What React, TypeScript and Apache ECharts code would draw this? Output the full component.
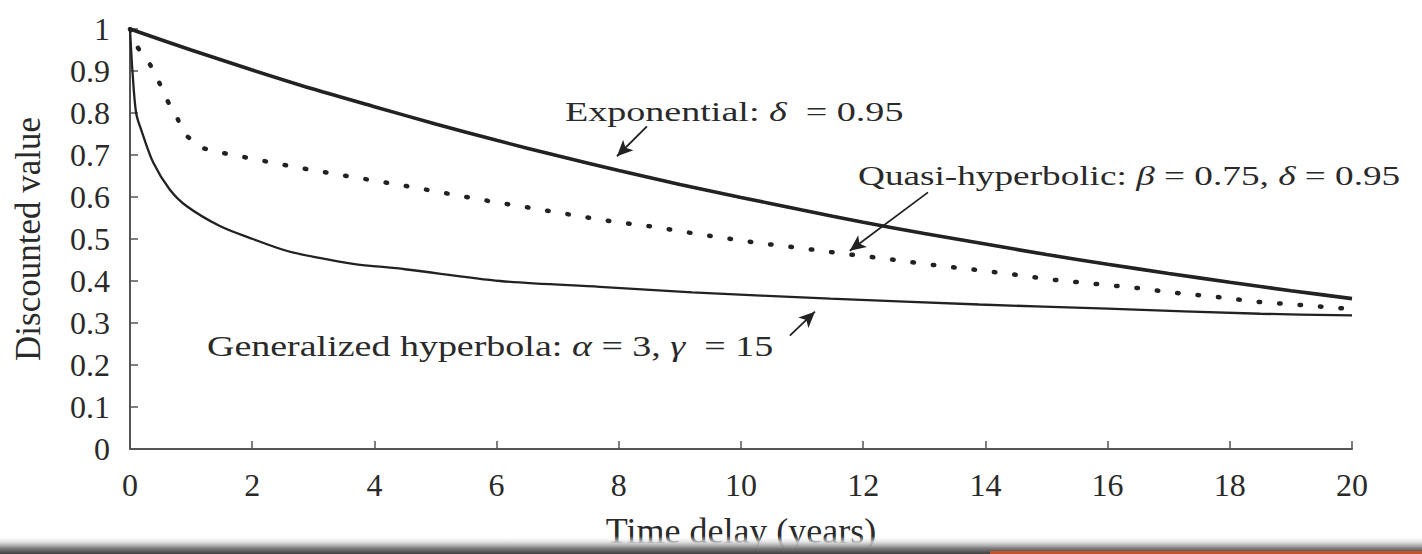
import React, { useEffect, useRef } from "react";
import * as echarts from "echarts";

// ---- data ----
const xTickValues = [0, 2, 4, 6, 8, 10, 12, 14, 16, 18, 20];

const expT = [0, 1, 2, 3, 4, 5, 6, 7, 8, 9, 10, 11, 12, 13, 14, 15, 16, 17, 18, 19, 20];
const expV = [1, 0.95, 0.9025, 0.857, 0.815, 0.774, 0.735, 0.698, 0.663, 0.63, 0.599, 0.569, 0.54, 0.513, 0.488, 0.463, 0.44, 0.418, 0.397, 0.377, 0.358];

const quasiT = [0, 0.13, 0.33, 0.48, 0.62, 0.77, 0.9, 1.15, 1.47, 1.8, 2.18, 2.83, 3.55, 4.53, 5.24, 5.89, 6.6, 7.25, 7.97, 8.63, 9.28, 10.31, 11.0, 11.67, 12.39, 13.04, 13.7, 14.4, 15.1, 15.8, 16.45, 17.1, 17.8, 18.4, 19.15, 20];
const quasiV = [1, 0.955, 0.915, 0.872, 0.827, 0.789, 0.749, 0.718, 0.706, 0.697, 0.686, 0.668, 0.65, 0.626, 0.607, 0.59, 0.573, 0.557, 0.54, 0.528, 0.512, 0.49, 0.478, 0.465, 0.453, 0.44, 0.429, 0.417, 0.403, 0.393, 0.384, 0.372, 0.362, 0.351, 0.343, 0.333];

const genT = [0, 0.04, 0.1, 0.19, 0.38, 0.65, 0.93, 1.47, 2.01, 2.56, 3.1, 3.65, 4.5, 6.06, 7.69, 9.2, 11.46, 13.9, 16.0, 18.5, 20];
const genV = [1, 0.9, 0.8, 0.757, 0.682, 0.618, 0.578, 0.531, 0.5, 0.472, 0.455, 0.441, 0.428, 0.4, 0.386, 0.373, 0.358, 0.344, 0.334, 0.322, 0.318];

// annotation arrows (tail -> head), data coordinates
const expArrow = [[8.46, 0.768], [7.97, 0.697]];
const quasiArrow = [[13.06, 0.611], [11.78, 0.472]];
const genArrow = [[10.8, 0.27], [11.21, 0.327]];

const SERIF = "Liberation Serif";
const INK = "#222";
const AXIS = "#555";
const TEXT = "#2a2a2a";

function pairs(xs: number[], ys: number[]) {
  return xs.map((x, i) => [x, ys[i]]);
}

function arrowLine(a: number[][]) {
  return {
    silent: true,
    symbol: ["none", "arrow"],
    symbolSize: [11, 16],
    lineStyle: { color: INK, width: 1.8, type: "solid" },
    label: { show: false },
    emphasis: { disabled: true },
    data: [[{ coord: a[0] }, { coord: a[1] }]],
  };
}

function annot(text: string, x: number, y: number, size: number, sx: number) {
  return {
    type: "text",
    x,
    y,
    scaleX: sx,
    z: 50,
    style: {
      text,
      fill: TEXT,
      fontFamily: SERIF,
      fontSize: size,
      align: "left",
      verticalAlign: "middle",
      rich: {
        a: { fontFamily: SERIF, fontSize: size, fill: TEXT },
        i: { fontFamily: SERIF, fontSize: size, fontStyle: "italic", fill: TEXT },
      },
    },
  };
}

export default function App() {
  const ref = useRef<HTMLDivElement>(null);
  useEffect(() => {
    if (!ref.current) return;
    const chart = echarts.init(ref.current, null, { renderer: "svg" });
    chart.setOption({
      animation: false,
      backgroundColor: "#ffffff",
      textStyle: { fontFamily: SERIF },
      grid: { left: 130, right: 70, top: 29, bottom: 103 },
      xAxis: {
        type: "value",
        min: 0,
        max: 20,
        interval: 2,
        name: "Time delay (years)",
        nameLocation: "middle",
        nameGap: 64,
        nameTextStyle: { fontFamily: SERIF, fontSize: 36, color: TEXT },
        axisLine: { show: true, lineStyle: { color: AXIS, width: 2 } },
        axisTick: { show: true, inside: true, length: 8, lineStyle: { color: AXIS, width: 1.5 } },
        axisLabel: {
          fontFamily: SERIF,
          fontSize: 32,
          color: TEXT,
          margin: 20,
          formatter: (v: number) => (xTickValues.includes(v) ? String(v) : ""),
        },
        splitLine: { show: false },
      },
      yAxis: {
        type: "value",
        min: 0,
        max: 1,
        interval: 0.1,
        name: "Discounted value",
        nameLocation: "middle",
        nameGap: 84,
        nameRotate: 90,
        nameTextStyle: { fontFamily: SERIF, fontSize: 35, color: TEXT },
        axisLine: { show: true, lineStyle: { color: AXIS, width: 2 } },
        axisTick: { show: true, inside: true, length: 8, lineStyle: { color: AXIS, width: 1.5 } },
        axisLabel: {
          fontFamily: SERIF,
          fontSize: 32,
          color: TEXT,
          margin: 20,
          formatter: (v: number) => String(Math.round(v * 10) / 10),
        },
        splitLine: { show: false },
      },
      series: [
        {
          name: "Exponential",
          type: "line",
          data: pairs(expT, expV),
          showSymbol: false,
          smooth: 0.3,
          lineStyle: { color: INK, width: 3.6 },
          z: 3,
          markLine: arrowLine(expArrow),
        },
        {
          name: "Quasi-hyperbolic",
          type: "line",
          data: pairs(quasiT, quasiV),
          showSymbol: false,
          lineStyle: { color: INK, width: 4.5, type: [1.5, 19], cap: "round" },
          z: 2,
          markLine: arrowLine(quasiArrow),
        },
        {
          name: "Generalized hyperbola",
          type: "line",
          data: pairs(genT, genV),
          showSymbol: false,
          smooth: 0.3,
          lineStyle: { color: INK, width: 2.3 },
          z: 2,
          markLine: arrowLine(genArrow),
        },
      ],
      graphic: [
        annot("{a|Exponential: }{i|δ}{a|  = 0.95}", 565, 111, 28, 1.36),
        annot("{a|Quasi-hyperbolic: }{i|β}{a| = 0.75, }{i|δ}{a| = 0.95}", 858, 176, 28, 1.33),
        annot("{a|Generalized hyperbola: }{i|α}{a| = 3, }{i|γ}{a|  = 15}", 207, 346, 29, 1.31),
        {
          type: "rect",
          z: 100,
          shape: { x: 0, y: 536, width: 1422, height: 18 },
          style: {
            fill: new echarts.graphic.LinearGradient(0, 0, 0, 1, [
              { offset: 0, color: "rgba(255,255,255,0)" },
              { offset: 0.35, color: "rgba(215,215,215,0.85)" },
              { offset: 0.7, color: "#7a7a7a" },
              { offset: 1, color: "#3e3e3e" },
            ]),
          },
        },
        {
          type: "rect",
          z: 101,
          shape: { x: 990, y: 551, width: 432, height: 3 },
          style: { fill: "#c4532b" },
        },
      ],
    });
    return () => chart.dispose();
  }, []);
  return (
    <div
      ref={ref}
      style={{ position: "absolute", left: 0, top: 0, width: 1422, height: 554, background: "#fff" }}
    />
  );
}
